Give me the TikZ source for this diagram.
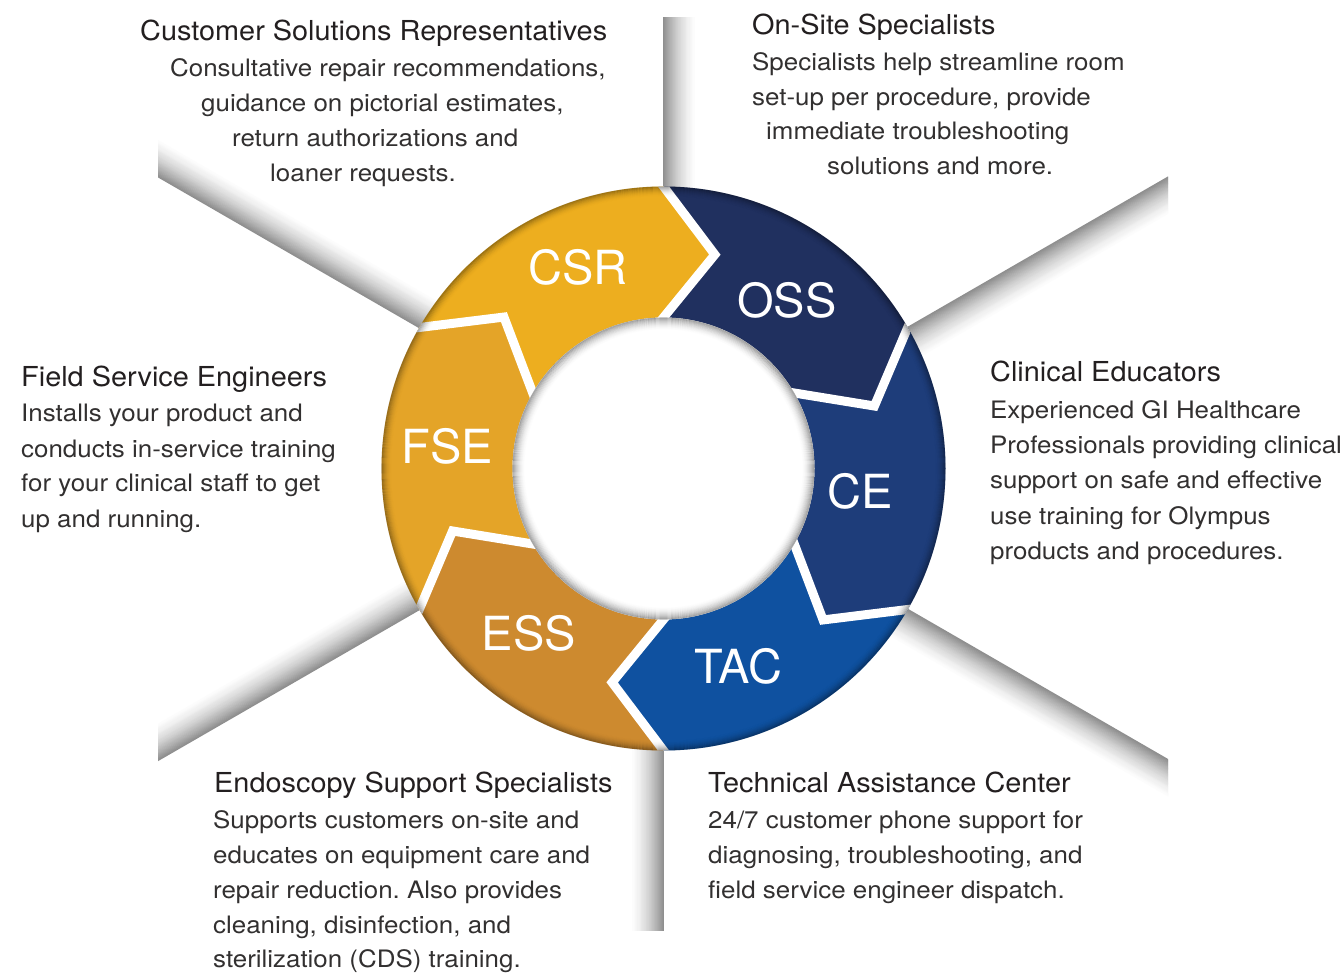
\documentclass[tikz,border=0pt]{standalone}
\usepackage{fontspec}
\setmainfont{TeX Gyre Heros}[FakeStretch=1.05]
\newfontfamily\bodyfont{TeX Gyre Heros}[FakeStretch=1.08]
\newfontfamily\lblfont{TeX Gyre Heros}
\usetikzlibrary{calc}
\definecolor{cCSR}{RGB}{237,174,31}
\definecolor{cFSE}{RGB}{228,164,40}
\definecolor{cESS}{RGB}{205,138,47}
\definecolor{cOSS}{RGB}{32,48,95}
\definecolor{cCE}{RGB}{30,61,122}
\definecolor{cTAC}{RGB}{15,81,160}
\definecolor{ttl}{RGB}{35,31,32}
\definecolor{txt}{RGB}{50,48,48}
\frenchspacing
\begin{document}
\begin{tikzpicture}[x=1pt,y=-1pt,
  title/.style={anchor=base west, inner sep=0pt, text=ttl, font=\fontsize{27.5}{33}\selectfont},
  body/.style={anchor=base west, inner sep=0pt, text=txt, font=\bodyfont\fontsize{24}{29}\selectfont},
  lbl/.style={text=white, inner sep=0pt, font=\lblfont\fontsize{47}{56}\selectfont},
  gap/.style={white, line width=9pt, line join=miter},
]
\fill[white] (0,0) rectangle (1342,973);
\useasboundingbox (0,0) rectangle (1342,973);
\coordinate (C) at (663.5,468.5);

% shadow beams
\begin{scope}
  \clip (158,18) rectangle (1168,930);
  \foreach \a in {90,30,-30,-90,-150,150}{
    \begin{scope}[shift={(C)}, rotate=\a]
      \foreach \i in {34,33,...,0}{
        \pgfmathtruncatemacro\k{44*(1-\i/35)^1.6}
        \draw[black!\k, line width=1.4pt] (200,\i) -- (720,\i);
      }
    \end{scope}
  }
\end{scope}

% ring geometry
\foreach \b/\n in {150/a,90/b,30/c,-30/d,-90/e,-150/f}{
  \coordinate (O\n) at ($(C)+(\b:282pt)$);
  \coordinate (T\n) at ($(C)+(\b-13.5:220pt)$);
  \coordinate (I\n) at ($(C)+(\b:151pt)$);
}

\fill[cCSR] (Oa) arc[start angle=150, end angle=90, radius=282pt] -- (Tb) -- (Ib)
  arc[start angle=90, end angle=150, radius=151pt] -- (Ta) -- cycle;
\fill[cOSS] (Ob) arc[start angle=90, end angle=30, radius=282pt] -- (Tc) -- (Ic)
  arc[start angle=30, end angle=90, radius=151pt] -- (Tb) -- cycle;
\fill[cCE] (Oc) arc[start angle=30, end angle=-30, radius=282pt] -- (Td) -- (Id)
  arc[start angle=-30, end angle=30, radius=151pt] -- (Tc) -- cycle;
\fill[cTAC] (Od) arc[start angle=-30, end angle=-90, radius=282pt] -- (Te) -- (Ie)
  arc[start angle=-90, end angle=-30, radius=151pt] -- (Td) -- cycle;
\fill[cESS] (Oe) arc[start angle=-90, end angle=-150, radius=282pt] -- (Tf) -- (If)
  arc[start angle=-150, end angle=-90, radius=151pt] -- (Te) -- cycle;
\fill[cFSE] (Of) arc[start angle=210, end angle=150, radius=282pt] -- (Ta) -- (Ia)
  arc[start angle=150, end angle=210, radius=151pt] -- (Tf) -- cycle;

% white gaps
\begin{scope}
  \clip (C) circle[radius=282pt];
  \foreach \n in {a,b,c,d,e,f}{
    \draw[gap] ($(O\n)!-0.3!(T\n)$) -- (T\n) -- ($(I\n)!-0.3!(T\n)$);
  }
\end{scope}

% outer rim shading
\foreach \i in {0,...,9}{
  \pgfmathsetmacro\o{0.3*(1-\i/10)^2}
  \draw[black, opacity=\o, line width=1.1pt] (C) circle[radius=281.5pt-\i pt];
}

% hole with inner shadow
\fill[white] (C) circle[radius=151pt];
\foreach \i in {0,...,12}{
  \pgfmathsetmacro\o{0.32*(1-\i/13)^2}
  \draw[black, opacity=\o, line width=1.1pt] (C) circle[radius=150.5pt-\i pt];
}

% ring labels
\node[lbl] (lCSR) at (578,267) {CSR};
\node[lbl] (lOSS) at (787,300) {OSS};
\node[lbl] (lCE)  at (860,491) {CE};
\node[lbl] (lTAC) at (738,666) {TAC};
\node[lbl] (lESS) at (529,633) {ESS};
\node[lbl] (lFSE) at (447,446) {FSE};

% CSR text
\node[title] (csrT) at (140,41) {Customer Solutions Representatives};
\node[body] (csr1) at (170,77) {Consultative repair recommendations,};
\node[body] (csr2) at (201,112) {guidance on pictorial estimates,};
\node[body] (csr3) at (232,147) {return authorizations and};
\node[body] (csr4) at (270,182) {loaner requests.};

% OSS text
\node[title] (ossT) at (752,35) {On-Site Specialists};
\node[body] (oss1) at (752,71) {Specialists help streamline room};
\node[body] (oss2) at (752,106) {set-up per procedure, provide};
\node[body] (oss3) at (766,140) {immediate troubleshooting};
\node[body] (oss4) at (827,175) {solutions and more.};

% FSE text
\node[title] (fseT) at (21,387) {Field Service Engineers};
\node[body] (fse1) at (21,422) {Installs your product and};
\node[body] (fse2) at (21,457) {conducts in-service training};
\node[body] (fse3) at (21,492) {for your clinical staff to get};
\node[body] (fse4) at (21,527) {up and running.};

% CE text
\node[title] (ceT) at (990,382) {Clinical Educators};
\node[body] (ce1) at (990,419) {Experienced GI Healthcare};
\node[body] (ce2) at (990,454) {Professionals providing clinical};
\node[body] (ce3) at (990,489) {support on safe and effective};
\node[body] (ce4) at (990,524) {use training for Olympus};
\node[body] (ce5) at (990,559) {products and procedures.};

% ESS text
\node[title] (essT) at (214,792) {Endoscopy Support Specialists};
\node[body] (ess1) at (213,828) {Supports customers on-site and};
\node[body] (ess2) at (213,863) {educates on equipment care and};
\node[body] (ess3) at (213,898) {repair reduction. Also provides};
\node[body] (ess4) at (213,933) {cleaning, disinfection, and};
\node[body] (ess5) at (213,967) {sterilization (CDS) training.};

% TAC text
\node[title] (tacT) at (708,792) {Technical Assistance Center};
\node[body] (tac1) at (708,828) {24/7 customer phone support for};
\node[body] (tac2) at (708,863) {diagnosing, troubleshooting, and};
\node[body] (tac3) at (708,898) {field service engineer dispatch.};
\end{tikzpicture}
\end{document}
